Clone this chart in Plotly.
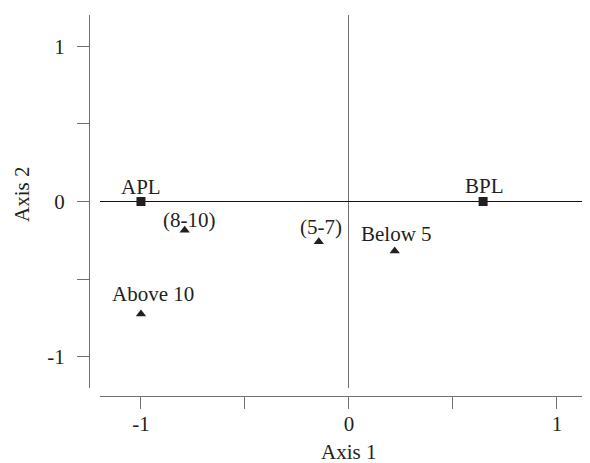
import plotly.graph_objects as go

# row categories (squares) and column categories (triangles)
row_labels = ['APL', 'BPL']
row_axis1 = [-1.0, 0.645]
row_axis2 = [0.0, 0.0]

col_labels = ['(8-10)', 'Above 10', '(5-7)', 'Below 5']
col_axis1 = [-0.79, -1.0, -0.145, 0.22]
col_axis2 = [-0.185, -0.725, -0.26, -0.32]

x_ticks = [-1, -0.5, 0, 0.5, 1]
x_ticktext = ['-1', '', '0', '', '1']
y_ticks = [-1, -0.5, 0, 0.5, 1]
y_ticktext = ['-1', '', '0', '', '1']

# page body keeps its default 8px margin, so the figure is a bit smaller
PAD = 8
W, H = 590 - PAD, 463 - PAD
FONT = 'Liberation Serif, Times New Roman, serif'
INK = '#231f20'
GREY = '#707070'


def px(x):
    # screen pixel -> paper fraction
    return (x - PAD) / W


def py(y):
    return 1 - (y - PAD) / H


# label offsets in px (dx, dy) so the labels sit above their markers
row_offsets = [(0, 14), (1, 15)]
col_offsets = [(4, 10), (12, 20), (2, 15), (2, 17)]

fig = go.Figure()
fig.add_trace(go.Scatter(x=row_axis1, y=row_axis2, mode='markers',
                         marker=dict(symbol='square', size=9, color=INK),
                         showlegend=False, hoverinfo='skip'))
fig.add_trace(go.Scatter(x=col_axis1, y=col_axis2, mode='markers',
                         marker=dict(symbol='triangle-up', size=9, color=INK),
                         showlegend=False, hoverinfo='skip'))

for lab, x, y, (dx, dy) in zip(row_labels + col_labels,
                               row_axis1 + col_axis1,
                               row_axis2 + col_axis2,
                               row_offsets + col_offsets):
    fig.add_annotation(x=x, y=y, text=lab, showarrow=False,
                       xshift=dx, yshift=dy,
                       font=dict(family=FONT, size=21, color=INK))

fig.add_annotation(x=px(348.5), y=py(452), xref='paper', yref='paper',
                   xanchor='center', yanchor='middle',
                   text='Axis 1', showarrow=False,
                   font=dict(family=FONT, size=21, color=INK))
fig.add_annotation(x=px(22), y=py(195), xref='paper', yref='paper',
                   xanchor='center', yanchor='middle',
                   text='Axis 2', showarrow=False, textangle=-90,
                   font=dict(family=FONT, size=21, color=INK))

fig.update_layout(
    width=W, height=H,
    margin=dict(l=0, r=0, t=0, b=0),
    plot_bgcolor='white', paper_bgcolor='white',
    font=dict(family=FONT, size=21, color=INK),
    xaxis=dict(domain=[px(100), 1], range=[-1.197, 1.159],
               anchor='free', position=py(396),
               showline=True, linecolor=GREY, linewidth=1.2,
               ticks='outside', ticklen=12, tickcolor=GREY, tickwidth=1.2,
               tickvals=x_ticks, ticktext=x_ticktext, ticklabelstandoff=-3,
               showgrid=False, zeroline=True, zerolinecolor=GREY,
               zerolinewidth=1.2, automargin=False),
    yaxis=dict(domain=[py(388), py(15)], range=[-1.203, 1.203],
               anchor='free', position=px(89),
               showline=True, linecolor=GREY, linewidth=1.2,
               ticks='outside', ticklen=12, tickcolor=GREY, tickwidth=1.2,
               tickvals=y_ticks, ticktext=y_ticktext, ticklabelstandoff=8,
               showgrid=False, zeroline=True, zerolinecolor='#111111',
               zerolinewidth=1.2, automargin=False),
)

fig.write_html('out.html')
